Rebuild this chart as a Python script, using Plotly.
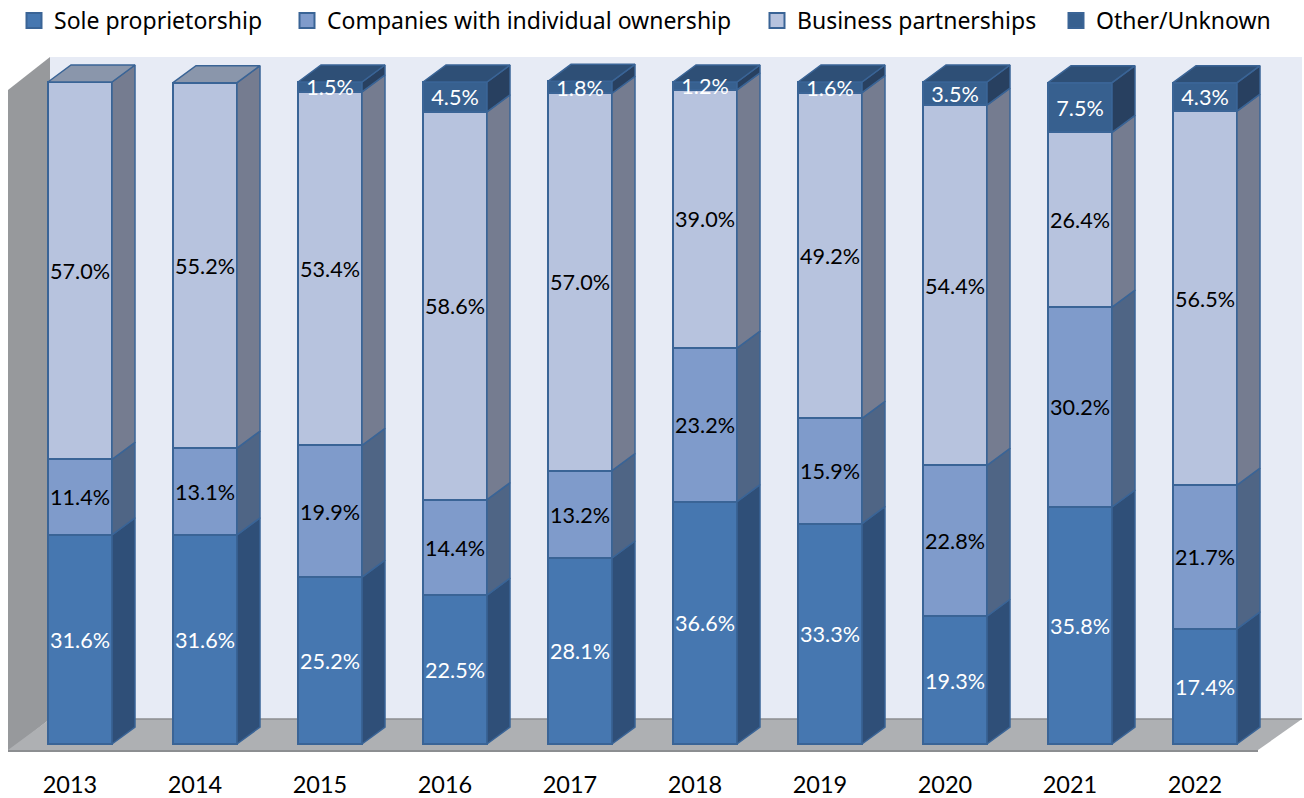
import plotly.graph_objects as go

# ---- data (percent) ----
years = ["2013", "2014", "2015", "2016", "2017", "2018", "2019", "2020", "2021", "2022"]
sole = [31.6, 31.6, 25.2, 22.5, 28.1, 36.6, 33.3, 19.3, 35.8, 17.4]
companies = [11.4, 13.1, 19.9, 14.4, 13.2, 23.2, 15.9, 22.8, 30.2, 21.7]
partnerships = [57.0, 55.2, 53.4, 58.6, 57.0, 39.0, 49.2, 54.4, 26.4, 56.5]
other = [0, 0, 1.5, 4.5, 1.8, 1.2, 1.6, 3.5, 7.5, 4.3]
names = ["Sole proprietorship", "Companies with individual ownership", "Business partnerships", "Other/Unknown"]
series = [sole, companies, partnerships, other]

# ---- styles ----
W, H, MB = 1304, 798, 30
PX_X, PX_Y = 125.0, 6.62          # pixels per category / per percent
X0_PX, Y0_PX = 80.0, 744.0        # pixel position of first bar centre / of 0 %
front = ["#4677B0", "#7F9BCB", "#B7C3DE", "#37608F"]
side = ["#2F4F78", "#4F6585", "#757C90", "#284060"]
top = ["#2F4F78", "#4F6585", "#8A96AB", "#2E4F76"]
label_col = ["white", "black", "black", "white"]
edge = "#3A6496"
FONT = "Lato"
bar_w = 64 / PX_X
dx, dy = 23 / PX_X, 17 / PX_Y
label_drop = 3 / PX_Y


def px(p):
    return (p - X0_PX) / PX_X


def py(p):
    return (Y0_PX - p) / PX_Y


xs = list(range(len(years)))
fig = go.Figure()

# front faces
for k, vals in enumerate(series):
    fig.add_trace(go.Bar(x=xs, y=vals, width=bar_w, showlegend=False, hoverinfo="skip",
                         marker=dict(color=front[k], line=dict(color=edge, width=2))))

# side faces and caps, derived from the stacked values
tops = [sum(s[i] for s in series) for i in xs]
base = [0.0] * len(xs)
for k, vals in enumerate(series):
    sx, sy, cx, cy = [], [], [], []
    for i in xs:
        if vals[i] <= 0:
            continue
        r = i + bar_w / 2
        b, t = base[i], base[i] + vals[i]
        sx += [r, r + dx, r + dx, r, r, None]
        sy += [b, b + dy, t + dy, t, b, None]
        if t >= tops[i] - 1e-9:
            l = i - bar_w / 2
            cx += [l, l + dx, r + dx, r, l, None]
            cy += [t, t + dy, t + dy, t, t, None]
    fig.add_trace(go.Scatter(x=sx, y=sy, mode="lines", fill="toself", fillcolor=side[k],
                             line=dict(color=edge, width=1.5), showlegend=False, hoverinfo="skip"))
    fig.add_trace(go.Scatter(x=cx, y=cy, mode="lines", fill="toself", fillcolor=top[k],
                             line=dict(color=edge, width=1.5), showlegend=False, hoverinfo="skip"))
    base = [base[i] + vals[i] for i in xs]

# data labels
base = [0.0] * len(xs)
for k, vals in enumerate(series):
    fig.add_trace(go.Scatter(
        x=xs, y=[base[i] + vals[i] / 2 - label_drop for i in xs], mode="text",
        text=[f"{v:.1f}%" if v > 0 else "" for v in vals], textposition="middle center",
        textfont=dict(family=FONT, size=21.6, color=label_col[k]), showlegend=False, hoverinfo="skip"))
    base = [base[i] + vals[i] for i in xs]

# legend entries
legend_px = [14, 287, 757, 1056]
layout_legends = {}
for k, name in enumerate(names):
    key = "legend" if k == 0 else f"legend{k + 1}"
    fig.add_trace(go.Scatter(x=[None], y=[None], mode="markers", name=name, legend=key,
                             marker=dict(symbol="square", size=15, color=front[k],
                                         line=dict(color=edge, width=2))))
    layout_legends[key] = dict(x=legend_px[k] / W, xanchor="left", y=1 - 20.5 / (H - MB), yanchor="middle",
                               bgcolor="rgba(0,0,0,0)", orientation="h", itemwidth=30,
                               font=dict(family="Noto Sans", size=23, color="black"))

# chart room: back wall, left wall, floor (decoration, behind the data)
shapes = [
    dict(type="path", path=f"M {px(50)},{py(57)} L {px(1302)},{py(57)} L {px(1302)},{py(719)} L {px(50)},{py(719)} Z",
         fillcolor="#E7EBF5", line=dict(width=0), layer="below"),
    dict(type="path", path=f"M {px(8)},{py(90)} L {px(50)},{py(57)} L {px(50)},{py(719)} L {px(8)},{py(752)} Z",
         fillcolor="#97999C", line=dict(width=0), layer="below"),
    dict(type="path", path=f"M {px(8)},{py(750)} L {px(50)},{py(719)} L {px(1302)},{py(719)} L {px(1258)},{py(750)} Z",
         fillcolor="#AEB0B3", line=dict(width=0), layer="below"),
    dict(type="line", x0=px(8), x1=px(1258), y0=py(751), y1=py(751), line=dict(color="#8C8E91", width=2), layer="below"),
    dict(type="line", x0=px(50), x1=px(1302), y0=py(719), y1=py(719), line=dict(color="#8C8E91", width=1.5), layer="below"),
]

fig.update_layout(
    width=W, height=H, margin=dict(l=0, r=0, t=0, b=MB, autoexpand=False),
    paper_bgcolor="white", plot_bgcolor="rgba(0,0,0,0)",
    barmode="stack", shapes=shapes, hovermode=False,
    **layout_legends,
    xaxis=dict(range=[px(0), px(W)], tickmode="array", tickvals=[i - 10 / PX_X for i in xs], ticktext=years,
               showgrid=False, zeroline=False, showline=False, ticks="", automargin=False,
               tickfont=dict(family=FONT, size=23.5, color="black"), fixedrange=True),
    yaxis=dict(range=[py(H - MB), py(0)], visible=False, fixedrange=True, automargin=False),
)

fig.write_html("out.html", config=dict(displayModeBar=False),
               post_script="document.body.style.margin='0';document.body.style.overflow='hidden';")
